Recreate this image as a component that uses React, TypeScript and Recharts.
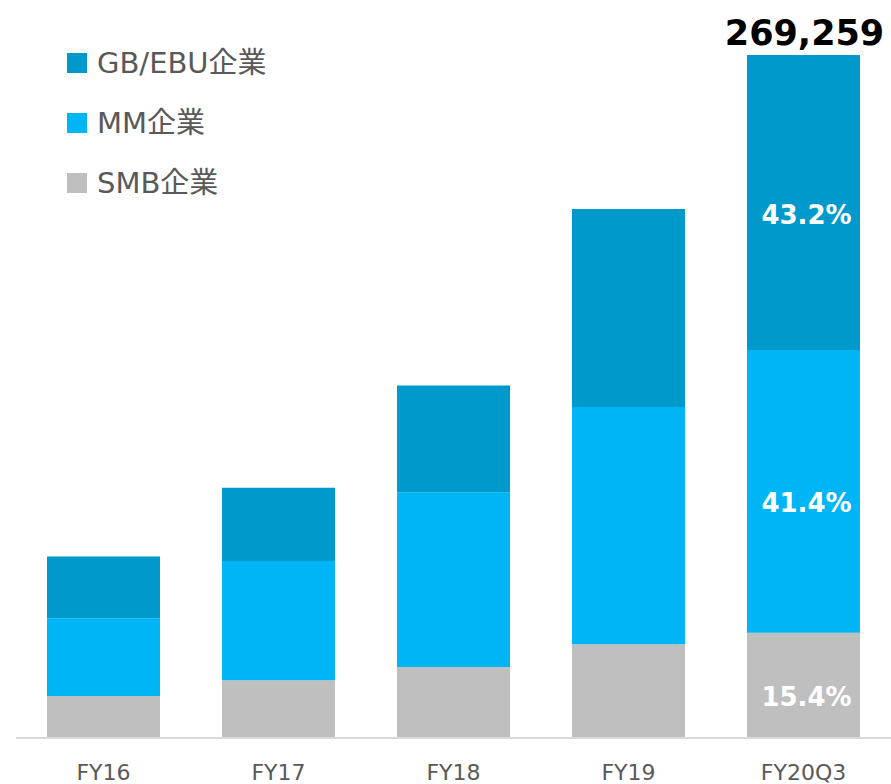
import React from 'react';
import { BarChart, Bar, XAxis, YAxis, Legend, LabelList } from 'recharts';

const categories = ['FY16', 'FY17', 'FY18', 'FY19', 'FY20Q3'];
const smbValues = [16569, 22763, 28010, 36965, 41466];
const mmValues = [30653, 47064, 68919, 93497, 111473];
const gbValues = [24302, 28800, 42054, 78111, 116320];
const totalLabels = ['', '', '', '', '269,259'];
const smbPctLabels = ['', '', '', '', '15.4%'];
const mmPctLabels = ['', '', '', '', '41.4%'];
const gbPctLabels = ['', '', '', '', '43.2%'];

const seriesNames = { gb: 'GB/EBU企業', mm: 'MM企業', smb: 'SMB企業' };
const colors = { gb: '#0099CC', mm: '#00B5F6', smb: '#BFBFBF' };

const FONT = "'DejaVu Sans', 'Noto Sans CJK JP', sans-serif";

const data = categories.map((c, i) => ({
  name: c,
  smb: smbValues[i],
  mm: mmValues[i],
  gb: gbValues[i],
  total: totalLabels[i],
  smbPct: smbPctLabels[i],
  mmPct: mmPctLabels[i],
  gbPct: gbPctLabels[i],
}));

const maxTotal = 269259;

const PctLabel = (props: any) => {
  const { x, y, width, height, value } = props;
  if (!value) return null;
  return (
    <text
      x={x + width / 2 + 3}
      y={y + height / 2 + 21}
      textAnchor="middle"
      fill="#ffffff"
      fontFamily={FONT}
      fontWeight="bold"
      fontSize={26}
    >
      {value}
    </text>
  );
};

const TotalLabel = (props: any) => {
  const { x, y, width, value } = props;
  if (!value) return null;
  return (
    <text
      x={x + width / 2 + 1}
      y={y - 10}
      textAnchor="middle"
      fill="#000000"
      fontFamily={FONT}
      fontWeight="bold"
      fontSize={35}
    >
      {value}
    </text>
  );
};

const Tick = (props: any) => {
  const { x, y, payload } = props;
  return (
    <text x={x} y={y + 42} textAnchor="middle" fill="#595959" fontFamily={FONT} fontSize={22}>
      {payload.value}
    </text>
  );
};

const LegendContent = () => {
  const items = [
    { key: 'gb', label: seriesNames.gb, color: colors.gb },
    { key: 'mm', label: seriesNames.mm, color: colors.mm },
    { key: 'smb', label: seriesNames.smb, color: colors.smb },
  ];
  return (
    <div style={{ fontFamily: FONT }}>
      {items.map((it) => (
        <div key={it.key} style={{ display: 'flex', alignItems: 'center', height: 60 }}>
          <div style={{ width: 20, height: 20, background: it.color, marginRight: 10 }} />
          <span style={{ fontSize: 29, color: '#595959', lineHeight: '30px' }}>{it.label}</span>
        </div>
      ))}
    </div>
  );
};

export default function App() {
  return (
    <div style={{ position: 'absolute', left: 0, top: 0, width: 891, height: 784, background: '#fff' }}>
      <BarChart
        width={891}
        height={784}
        data={data}
        margin={{ top: 55, right: 0, left: 16, bottom: 0 }}
        barSize={113}
      >
        <XAxis
          dataKey="name"
          axisLine={{ stroke: '#D9D9D9', strokeWidth: 2 }}
          tickLine={false}
          tickSize={0}
          tickMargin={0}
          height={46}
          tick={<Tick />}
          interval={0}
        />
        <YAxis hide type="number" domain={[0, maxTotal]} />
        <Legend
          layout="vertical"
          align="center"
          verticalAlign="middle"
          content={<LegendContent />}
          wrapperStyle={{ top: 33, left: 67, width: 'auto', height: 'auto' }}
        />
        <Bar dataKey="smb" stackId="a" fill={colors.smb} name={seriesNames.smb} isAnimationActive={false}>
          <LabelList dataKey="smbPct" content={<PctLabel />} />
        </Bar>
        <Bar dataKey="mm" stackId="a" fill={colors.mm} name={seriesNames.mm} isAnimationActive={false}>
          <LabelList dataKey="mmPct" content={<PctLabel />} />
        </Bar>
        <Bar dataKey="gb" stackId="a" fill={colors.gb} name={seriesNames.gb} isAnimationActive={false}>
          <LabelList dataKey="gbPct" content={<PctLabel />} />
          <LabelList dataKey="total" content={<TotalLabel />} />
        </Bar>
      </BarChart>
    </div>
  );
}
